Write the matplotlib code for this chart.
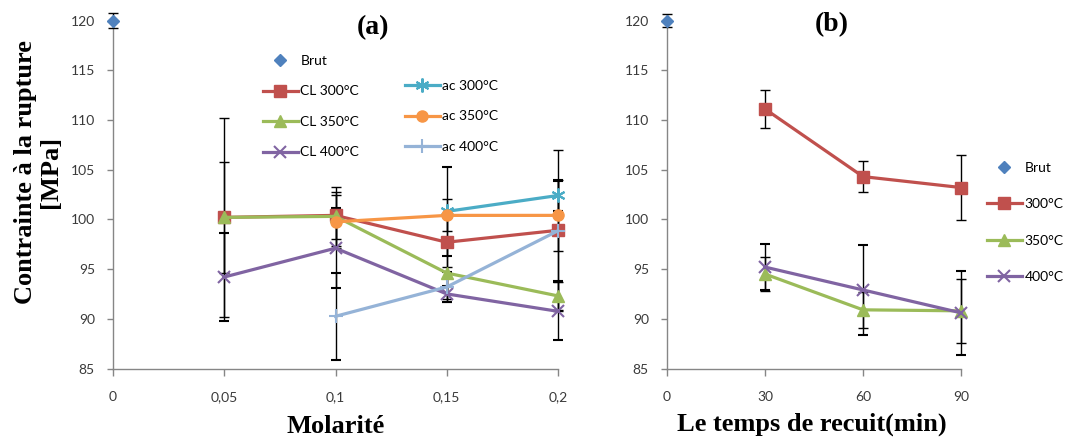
import numpy as np
import matplotlib
matplotlib.use("Agg")
import matplotlib.pyplot as plt

# ---------------- data ----------------
nan = np.nan
# panel (a)
molarite = [0.05, 0.10, 0.15, 0.20]
xticks_a = [0, 0.05, 0.10, 0.15, 0.20]
xticklabels_a = ["0", "0,05", "0,1", "0,15", "0,2"]
brut_val = 120.0
brut_err_a = 0.8
cl300 = [100.2, 100.4, 97.7, 98.9]
cl300_err = [10.0, 2.4, 2.5, 8.1]
cl350 = [100.2, 100.3, 94.6, 92.3]
cl350_err = [5.6, 3.0, 2.6, 1.4]
cl400 = [94.2, 97.1, 92.5, 90.75]
cl400_err = [4.4, 4.0, 0.8, 2.9]
ac300 = [nan, nan, 100.8, 102.4]
ac300_err = [nan, nan, 4.5, 1.6]
ac350 = [nan, 99.75, 100.4, 100.4]
ac350_err = [nan, 2.65, 1.6, 3.6]
ac400 = [nan, 90.25, 93.2, 98.85]
ac400_err = [nan, 4.4, 1.5, 5.0]

# panel (b)
temps = [30, 60, 90]
xticks_b = [0, 30, 60, 90]
brut_err_b = 0.7
b300 = [111.1, 104.3, 103.2]
b300_err = [1.95, 1.55, 3.3]
b350 = [94.5, 90.9, 90.8]
b350_err = [1.7, 1.8, 3.2]
b400 = [95.2, 92.9, 90.6]
b400_err = [2.3, 4.5, 4.2]

yticks = [85, 90, 95, 100, 105, 110, 115, 120]

# ---------------- style ----------------
C_BRUT = "#4F81BD"
C_300 = "#C0504D"
C_350 = "#9BBB59"
C_400 = "#8064A2"
C_AC300 = "#4BACC6"
C_AC350 = "#F79646"
C_AC400 = "#95B3D7"
GRID = "#868686"
TICKC = "#3a3a3a"
LAB_FONT = "Lato"

W, H = 1068, 437
fig = plt.figure(figsize=(W / 100, H / 100), dpi=100)

def fx(px):
    return px / W

def fy(py):
    return 1 - py / H

top_px, bot_px = 20.5, 368.5
ax_a = fig.add_axes([fx(113), fy(bot_px), fx(558 - 113), (bot_px - top_px) / H])
ax_b = fig.add_axes([fx(667), fy(bot_px), fx(961 - 667), (bot_px - top_px) / H])

ekw = dict(ecolor="black", elinewidth=1.0, capsize=3.5, capthick=1.0)
lw = 2.3
ms = 8

def series(ax, x, y, e, color, marker, label, msz=ms, mew=1.0, ls="-"):
    cont = ax.errorbar(x, y, yerr=e, color=color, marker=marker, markersize=msz,
                       markeredgewidth=mew, markeredgecolor=color, lw=lw, ls=ls,
                       label=label, zorder=3, **ekw)
    for c in cont[1]:
        c.set_clip_on(False)
    for b in cont[2]:
        b.set_clip_on(False)
    cont[0].set_clip_on(False)
    return cont

# ---- panel (a)
h_brut = series(ax_a, [0], [brut_val], [brut_err_a], C_BRUT, "D", "Brut", msz=6, ls="none")
h1 = series(ax_a, molarite, cl300, cl300_err, C_300, "s", "CL 300°C")
h2 = series(ax_a, molarite, cl350, cl350_err, C_350, "^", "CL 350°C")
h3 = series(ax_a, molarite, cl400, cl400_err, C_400, "x", "CL 400°C", msz=9, mew=1.5)
h4 = series(ax_a, molarite, ac300, ac300_err, C_AC300, (6, 2, 0), "ac 300°C", msz=10, mew=1.5)
h5 = series(ax_a, molarite, ac350, ac350_err, C_AC350, "o", "ac 350°C")
h6 = series(ax_a, molarite, ac400, ac400_err, C_AC400, "+", "ac 400°C", msz=10, mew=1.5)

ax_a.set_xlim(0, 0.2)
ax_a.set_xticks(xticks_a)
ax_a.set_xticklabels(xticklabels_a)

# ---- panel (b)
hb0 = series(ax_b, [0], [brut_val], [brut_err_b], C_BRUT, "D", "Brut", msz=6, ls="none")
hb1 = series(ax_b, temps, b300, b300_err, C_300, "s", "300°C")
hb2 = series(ax_b, temps, b350, b350_err, C_350, "^", "350°C")
hb3 = series(ax_b, temps, b400, b400_err, C_400, "x", "400°C", msz=9, mew=1.5)
ax_b.set_xlim(0, 90)
ax_b.set_xticks(xticks_b)
ax_b.set_xticklabels([str(v) for v in xticks_b])

for ax in (ax_a, ax_b):
    ax.set_ylim(85, 120)
    ax.set_yticks(yticks)
    ax.set_yticklabels([str(v) for v in yticks])
    for s in ("top", "right"):
        ax.spines[s].set_visible(False)
    for s in ("left", "bottom"):
        ax.spines[s].set_color(GRID)
        ax.spines[s].set_linewidth(1.0)
    ax.tick_params(axis="y", direction="out", length=4, width=1, color=GRID,
                   pad=9, labelsize=10, labelcolor=TICKC)
    ax.tick_params(axis="x", direction="out", length=5, width=1, color=GRID,
                   pad=11, labelsize=10, labelcolor=TICKC)
    for t in ax.get_xticklabels() + ax.get_yticklabels():
        t.set_fontfamily(LAB_FONT)
    ax.patch.set_alpha(0)

# ---- legends
def handles(conts):
    return [c[0] for c in conts]

leg_kw = dict(frameon=False, loc="upper left", borderpad=0, borderaxespad=0,
              handlelength=2.5, handletextpad=0.2,
              prop={"family": LAB_FONT, "size": 10}, bbox_transform=fig.transFigure)

leg1 = ax_a.legend(handles([h_brut, h1, h2, h3]), ["Brut", "CL 300°C", "CL 350°C", "CL 400°C"],
                   bbox_to_anchor=(fx(263), fy(55)), labelspacing=1.33, **leg_kw)
ax_a.add_artist(leg1)
leg2 = ax_a.legend(handles([h4, h5, h6]), ["ac 300°C", "ac 350°C", "ac 400°C"],
                   bbox_to_anchor=(fx(405), fy(80)), labelspacing=1.33, **leg_kw)
leg3 = ax_b.legend(handles([hb0, hb1, hb2, hb3]), ["Brut", "300°C", "350°C", "400°C"],
                   bbox_to_anchor=(fx(987), fy(162)), labelspacing=1.75, **leg_kw)

# ---- titles and axis labels
serif = "Liberation Serif"
fig.text(fx(373), fy(28), "(a)", fontsize=20, fontweight="bold", family=serif,
         ha="center", va="center")
fig.text(fx(832), fy(25), "(b)", fontsize=20, fontweight="bold", family=serif,
         ha="center", va="center")
fig.text(fx(336), fy(433), "Molarité", fontsize=19, fontweight="bold", family=serif,
         ha="center", va="baseline")
fig.text(fx(812), fy(431), "Le temps de recuit(min)", fontsize=19, fontweight="bold",
         family=serif, ha="center", va="baseline")
fig.text(fx(38), fy(172), "Contrainte à la rupture\n[MPa]", fontsize=19, fontweight="bold",
         family=serif, ha="center", va="center", rotation=90, multialignment="center",
         linespacing=1.15)

fig.savefig("out.png", dpi=100)
